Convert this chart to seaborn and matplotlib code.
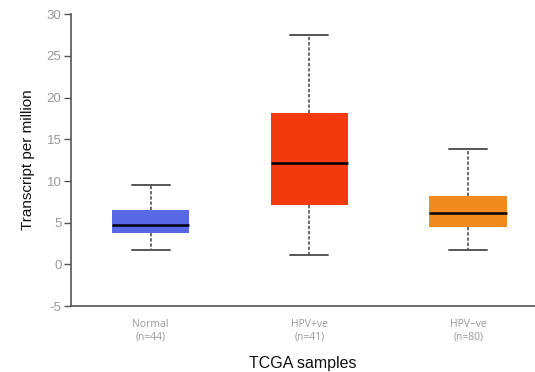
import matplotlib
matplotlib.use("Agg")
import matplotlib.pyplot as plt
import seaborn as sns
import pandas as pd

categories = ["Normal\n(n=44)", "HPV+ve\n(n=41)", "HPV\u2212ve\n(n=80)"]
# five-number summaries: whisker low, Q1, median, Q3, whisker high
whisker_low = [1.7, 1.1, 1.7]
q1 = [3.8, 7.1, 4.5]
median = [4.7, 12.1, 6.2]
q3 = [6.5, 18.1, 8.2]
whisker_high = [9.5, 27.5, 13.8]
colors = ["#5868E4", "#F23A0E", "#F28B1F"]
yticks = [-5, 0, 5, 10, 15, 20, 25, 30]

rows = []
for i, c in enumerate(categories):
    for v in (whisker_low[i], q1[i], median[i], q3[i], whisker_high[i]):
        rows.append({"group": c, "tpm": v})
df = pd.DataFrame(rows)

sns.set_style("white")
plt.rcParams["font.family"] = ["Liberation Sans", "DejaVu Sans"]

fig = plt.figure(figsize=(5.35, 3.72), dpi=100)
ax = fig.add_axes([0.133, 0.177, 0.867, 0.785])

sns.boxplot(data=df, x="group", y="tpm", hue="group", palette=colors,
            order=categories, hue_order=categories, legend=False,
            whis=(0, 100), width=0.49, linewidth=0, saturation=1, ax=ax,
            boxprops=dict(linewidth=0),
            medianprops=dict(color="black", linewidth=1.8),
            whiskerprops=dict(color="#444444", linestyle=(0, (2.2, 1.2)), linewidth=1.1),
            capprops=dict(color="#555555", linewidth=1.4),
            showfliers=False)

# cap width about half of box width
for line in ax.lines:
    xd = line.get_xdata()
    yd = line.get_ydata()
    if len(xd) == 2 and yd[0] == yd[1] and xd[0] != xd[1] and line.get_color() == "#555555":
        cx = (xd[0] + xd[1]) / 2
        line.set_xdata([cx - 0.12, cx + 0.12])

ax.set_ylim(-5, 30)
ax.set_xlim(-0.5, 2.42)
ax.set_yticks(yticks)
ax.set_yticklabels([str(t) for t in yticks])
ax.tick_params(axis="y", direction="out", length=5, width=1, color="#555555",
               labelsize=9.5, labelcolor="#999999", left=True, pad=2)
ax.tick_params(axis="x", length=0, labelsize=7.5, labelcolor="#999999", pad=9)
for lab in ax.get_xticklabels():
    lab.set_family(["Open Sans", "DejaVu Sans"])
    lab.set_linespacing(1.2)

for s in ["top", "right"]:
    ax.spines[s].set_visible(False)
for s in ["left", "bottom"]:
    ax.spines[s].set_color("#555555")
    ax.spines[s].set_linewidth(1.2)

ax.set_ylabel("Transcript per million", fontsize=11, color="#111111", labelpad=8)
ax.set_xlabel("TCGA samples", fontsize=11.5, color="#111111", labelpad=10)

fig.savefig("out.png", dpi=100)
